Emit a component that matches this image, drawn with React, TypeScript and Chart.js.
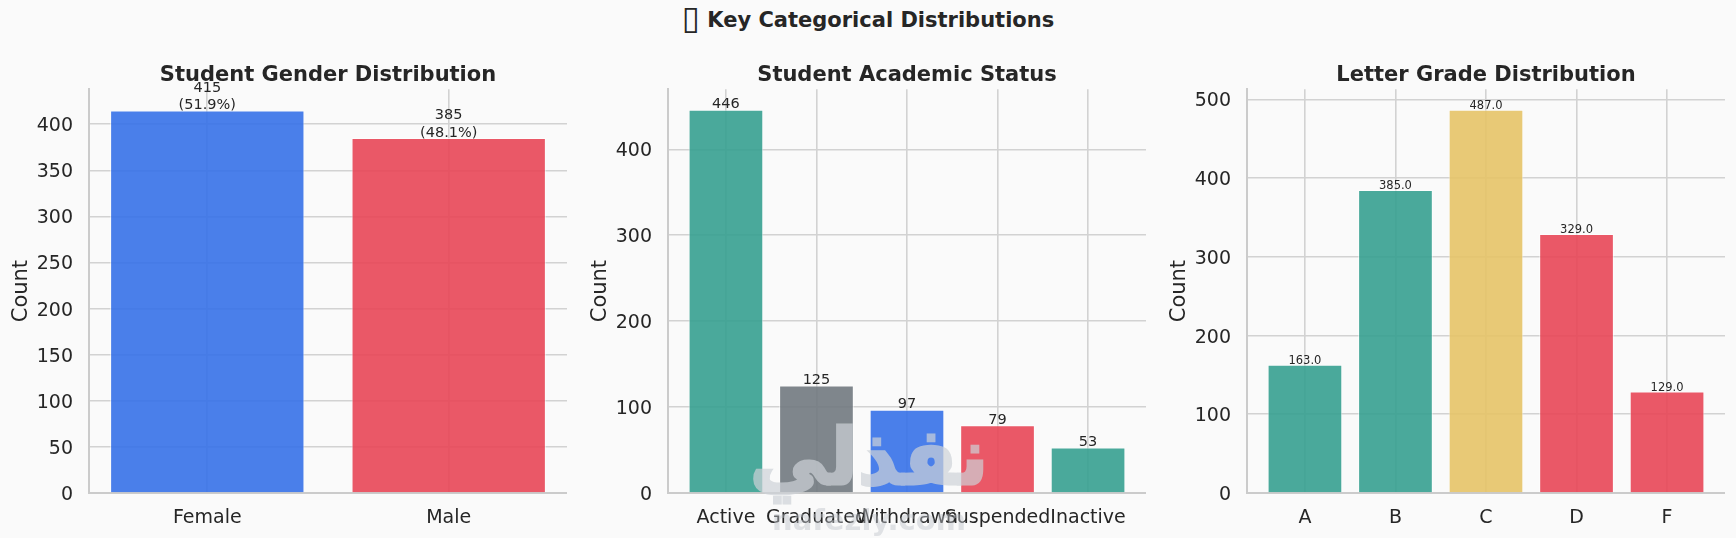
import React, { useEffect, useRef } from "react";
import { Chart, registerables } from "chart.js";

Chart.register(...registerables);

const genderLabels = ["Female", "Male"];
const genderCounts = [415, 385];
const genderValueText = [["415", "(51.9%)"], ["385", "(48.1%)"]];
const statusLabels = ["Active", "Graduated", "Withdrawn", "Suspended", "Inactive"];
const statusCounts = [446, 125, 97, 79, 53];
const gradeLabels = ["A", "B", "C", "D", "F"];
const gradeCounts = [163, 385, 487, 329, 129];

const BLUE = "rgba(54,113,232,0.9)";
const RED = "rgba(232,70,87,0.9)";
const TEAL = "rgba(54,160,144,0.9)";
const GRAY = "rgba(113,121,127,0.9)";
const YELLOW = "rgba(230,195,103,0.9)";

const FONT = "'DejaVu Sans'";
const INK = "#262626";

// prints the value just above each bar
const valueLabels = {
  id: "valueLabels",
  afterDatasetsDraw(chart: any, _args: any, opts: any) {
    const { ctx } = chart;
    const bars = chart.getDatasetMeta(0).data;
    ctx.save();
    ctx.fillStyle = INK;
    ctx.font = `${opts.size}px ${FONT}`;
    ctx.textAlign = "center";
    ctx.textBaseline = "bottom";
    bars.forEach((bar: any, i: number) => {
      const lines: string[] = opts.texts[i];
      lines.forEach((line, n) => {
        const y = bar.y - (lines.length - 1 - n) * opts.size * 1.2 + 2;
        ctx.fillText(line, bar.x, y);
      });
    });
    ctx.restore();
  },
};

type PanelProps = {
  left: number;
  width: number;
  title: string;
  labels: string[];
  values: number[];
  colors: string[];
  texts: string[][];
  textSize: number;
  barShare: number;
  xMin: number;
  xMax: number;
  yMax: number;
  yStep: number;
};

const Panel = (p: PanelProps) => {
  const ref = useRef<HTMLCanvasElement>(null);

  useEffect(() => {
    const grid = { color: "#d2d2d2", lineWidth: 1.6, drawTicks: false };
    const border = { display: true, color: "#cbcbcb", width: 2 };
    const chart = new Chart(ref.current!, {
      type: "bar",
      data: {
        datasets: [
          {
            data: p.values.map((v, i) => ({ x: i, y: v })),
            backgroundColor: p.colors,
            borderColor: "rgba(255,255,255,0.6)",
            borderWidth: 1,
            barPercentage: p.barShare,
            categoryPercentage: 1,
          },
        ],
      },
      options: {
        animation: false,
        responsive: false,
        layout: { autoPadding: false, padding: 0 },
        plugins: {
          legend: { display: false },
          tooltip: { enabled: false },
          title: {
            display: true,
            text: p.title,
            fullSize: false,
            color: INK,
            font: { family: FONT, size: 21, weight: "bold" },
            padding: { top: 63, bottom: 1 },
          },
          valueLabels: { texts: p.texts, size: p.textSize },
        } as any,
        scales: {
          x: {
            type: "linear",
            min: p.xMin,
            max: p.xMax,
            offset: false,
            grid: { ...grid, offset: false },
            border,
            afterFit: (s: any) => {
              s.height = 45;
            },
            ticks: {
              stepSize: 1,
              includeBounds: false,
              maxRotation: 0,
              autoSkip: false,
              padding: 14,
              color: INK,
              font: { family: FONT, size: 19 },
              callback: (v: any) => p.labels[v],
            },
          },
          y: {
            min: 0,
            max: p.yMax,
            grid,
            border,
            afterFit: (s: any) => {
              s.width = 89;
            },
            title: {
              display: true,
              text: "Count",
              color: INK,
              font: { family: FONT, size: 21 },
              padding: { top: 9, bottom: 0 },
            },
            ticks: {
              stepSize: p.yStep,
              includeBounds: false,
              padding: 16,
              labelOffset: 2,
              color: INK,
              font: { family: FONT, size: 19 },
            },
          },
        },
      } as any,
      plugins: [valueLabels],
    });
    return () => {
      chart.destroy();
    };
  }, []);

  return (
    <canvas
      ref={ref}
      width={p.width}
      height={538}
      style={{ position: "absolute", left: p.left, top: 0, width: p.width, height: 538 }}
    />
  );
};

const App = () => {
  return (
    <div style={{ position: "absolute", left: 0, top: 0, width: 1736, height: 538, background: "#fafafa", overflow: "hidden" }}>
      <div style={{ position: "absolute", top: 8, width: 1736, textAlign: "center", fontFamily: FONT, fontWeight: "bold", fontSize: 21, color: INK }}>
        <span style={{ fontSize: 33, fontWeight: "normal", lineHeight: 0, verticalAlign: -2 }}>▯</span> Key Categorical Distributions
      </div>
      <Panel
        left={0}
        width={567}
        title="Student Gender Distribution"
        labels={genderLabels}
        values={genderCounts}
        colors={[BLUE, RED]}
        texts={genderValueText}
        textSize={14.5}
        barShare={0.805}
        xMin={-0.49}
        xMax={1.49}
        yMax={438}
        yStep={50}
      />
      <Panel
        left={579}
        width={567}
        title="Student Academic Status"
        labels={statusLabels}
        values={statusCounts}
        colors={[TEAL, GRAY, BLUE, RED, TEAL]}
        texts={statusCounts.map((v) => [String(v)])}
        textSize={14.5}
        barShare={0.825}
        xMin={-0.64}
        xMax={4.64}
        yMax={470}
        yStep={100}
      />
      <Panel
        left={1158}
        width={567}
        title="Letter Grade Distribution"
        labels={gradeLabels}
        values={gradeCounts}
        colors={[TEAL, TEAL, YELLOW, RED, RED]}
        texts={gradeCounts.map((v) => [v.toFixed(1)])}
        textSize={11.5}
        barShare={0.825}
        xMin={-0.64}
        xMax={4.64}
        yMax={513}
        yStep={100}
      />
      <div dir="rtl" style={{ position: "absolute", left: 744, top: 402, width: 250, textAlign: "center", fontFamily: FONT, fontWeight: "bold", fontSize: 78, lineHeight: "110px", color: "rgb(205,210,215)", WebkitTextStroke: "3px rgb(205,210,215)", opacity: 0.7 }}>
        نفذلي
      </div>
      <div style={{ position: "absolute", left: 744, top: 503, width: 250, textAlign: "center", fontFamily: FONT, fontWeight: "bold", fontSize: 29, color: "rgba(190,196,202,0.45)" }}>
        nafezly.com
      </div>
    </div>
  );
};

export default App;
